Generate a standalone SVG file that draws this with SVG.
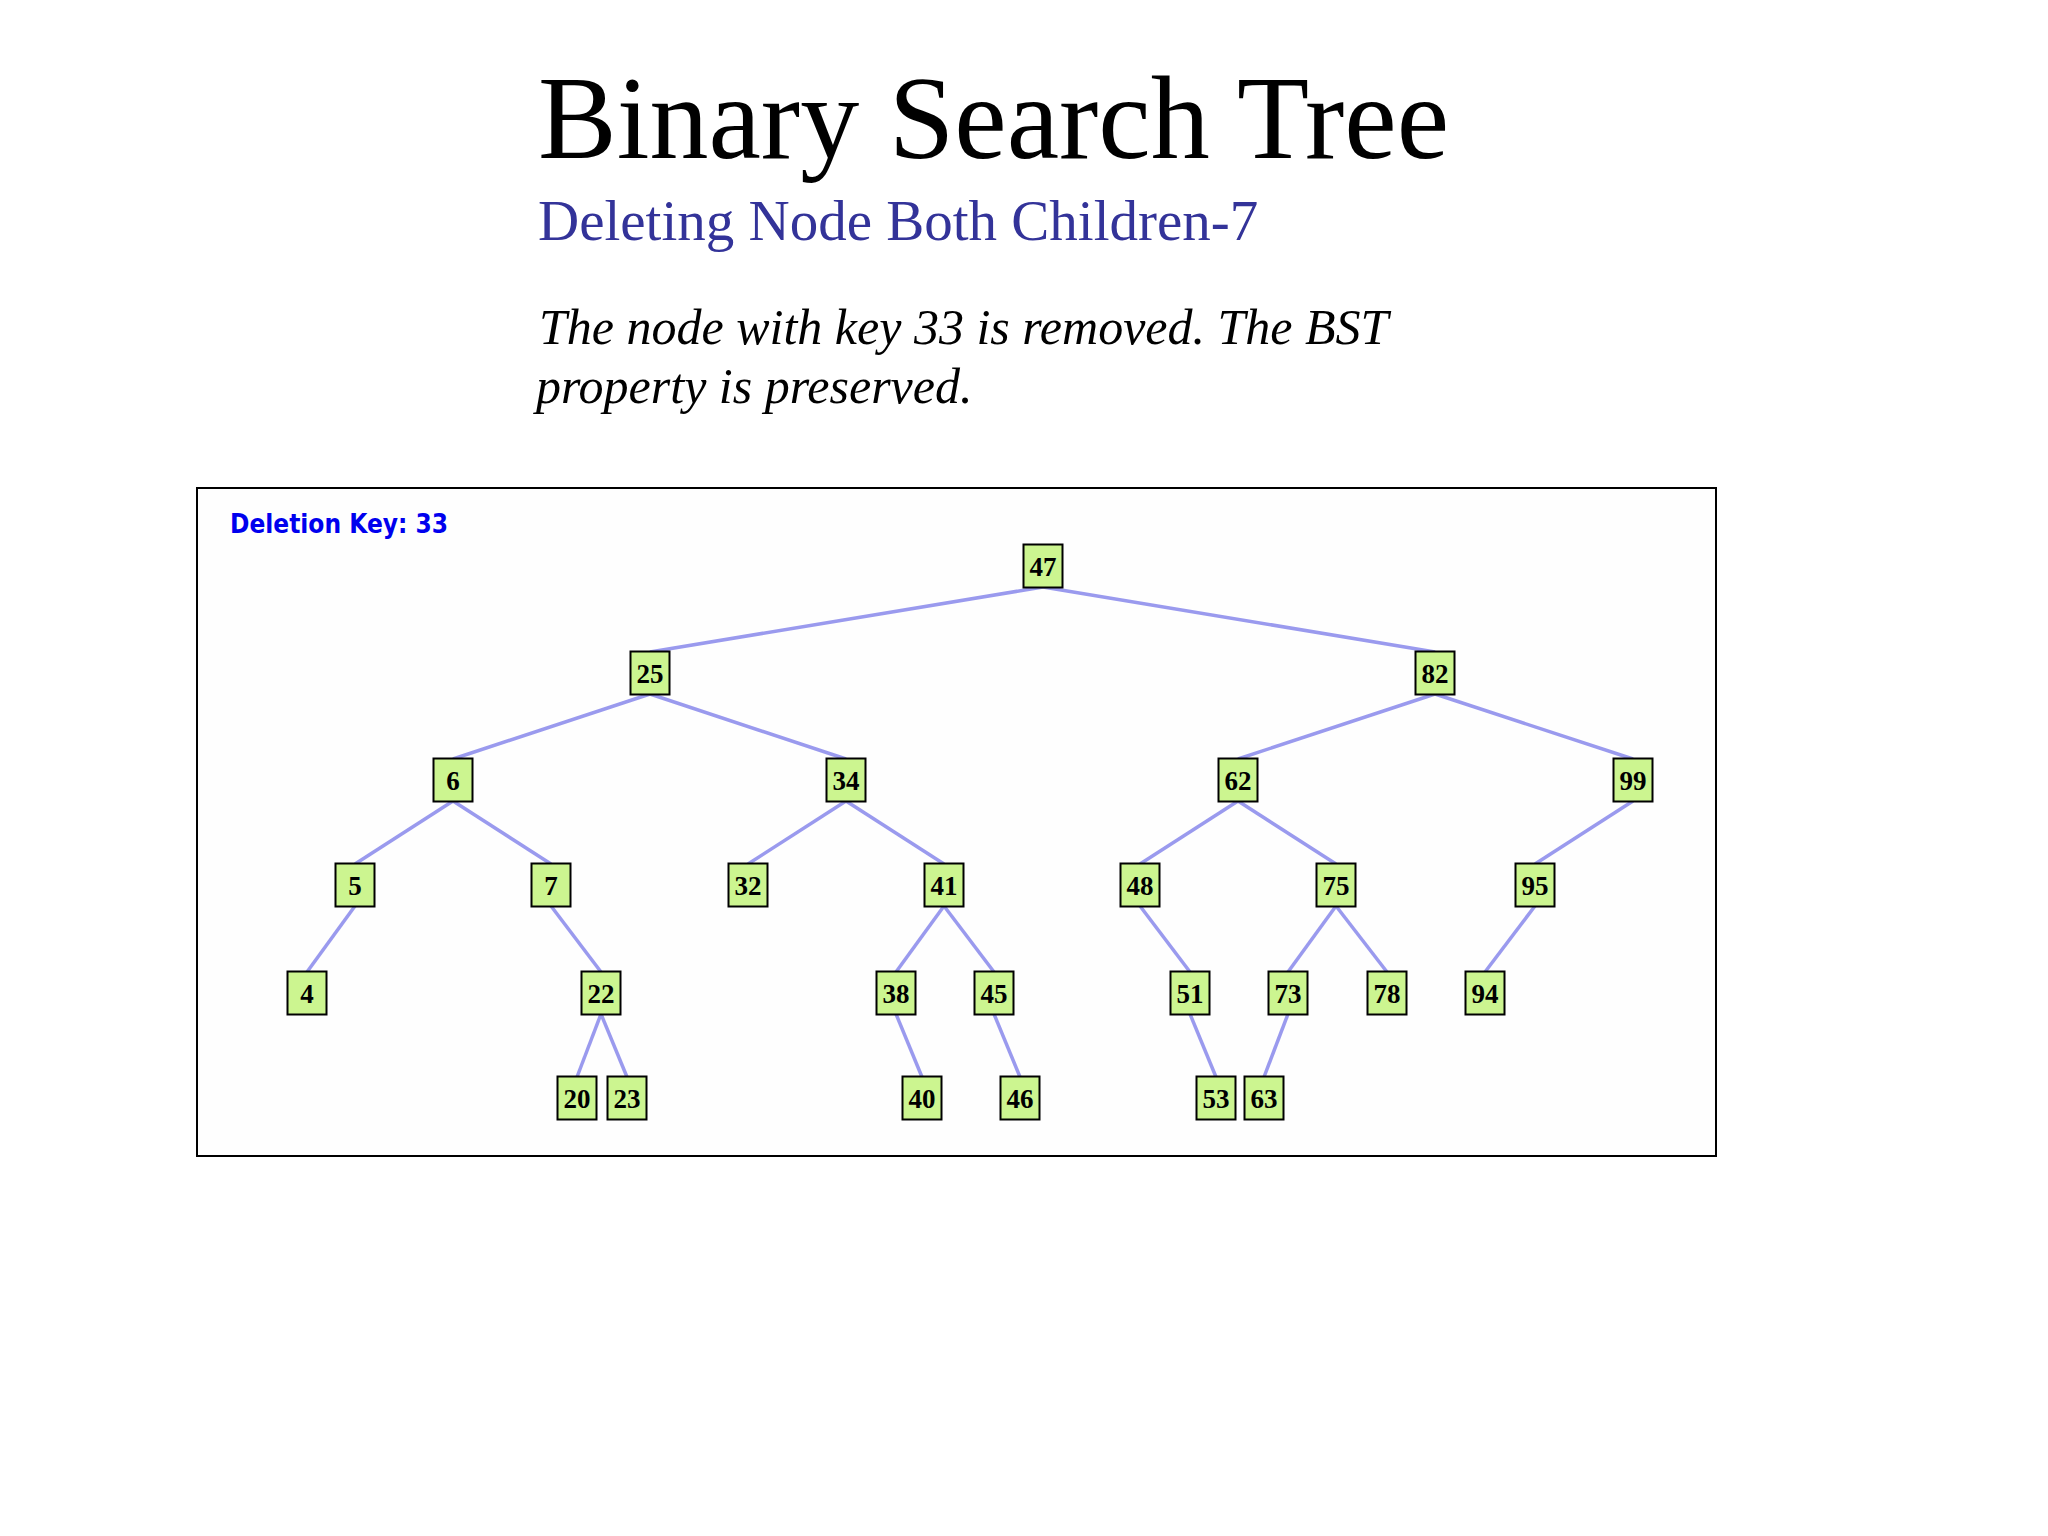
<svg xmlns="http://www.w3.org/2000/svg" width="2048" height="1536" viewBox="0 0 2048 1536">
<style>
.n rect{fill:#ccf590;stroke:#000;stroke-width:2}
.n text{font-family:"Liberation Serif",serif;font-size:27px;font-weight:bold;text-anchor:middle;fill:#000}
#edges line{stroke:#9a9aee;stroke-width:3.5}
</style>
<rect width="2048" height="1536" fill="#fff"/>
<text x="538" y="158" font-family="Liberation Serif,serif" font-size="118">Binary Search Tree</text>
<text x="538" y="240" font-family="Liberation Serif,serif" font-size="57" fill="#333399">Deleting Node Both Children-7</text>
<text x="539" y="344" font-family="Liberation Serif,serif" font-size="50" font-style="italic">The node with key 33 is removed. The BST</text>
<text x="536" y="403" font-family="Liberation Serif,serif" font-size="50" font-style="italic">property is preserved.</text>
<rect x="197" y="488" width="1519" height="668" fill="#fefefe" stroke="#000" stroke-width="2"/>
<text x="230" y="533" font-family="DejaVu Sans Condensed,DejaVu Sans,sans-serif" font-weight="bold" font-size="26" fill="#0000ee">Deletion Key:  33</text>
<g id="edges">
<line x1="1043" y1="587" x2="650" y2="652"/><line x1="1043" y1="587" x2="1435" y2="652"/>
<line x1="650" y1="694" x2="453" y2="759"/><line x1="650" y1="694" x2="846" y2="759"/>
<line x1="1435" y1="694" x2="1238" y2="759"/><line x1="1435" y1="694" x2="1633" y2="759"/>
<line x1="453" y1="801" x2="355" y2="864"/><line x1="453" y1="801" x2="551" y2="864"/>
<line x1="846" y1="801" x2="748" y2="864"/><line x1="846" y1="801" x2="944" y2="864"/>
<line x1="1238" y1="801" x2="1140" y2="864"/><line x1="1238" y1="801" x2="1336" y2="864"/>
<line x1="1633" y1="801" x2="1535" y2="864"/>
<line x1="355" y1="906" x2="307" y2="972"/><line x1="551" y1="906" x2="601" y2="972"/>
<line x1="944" y1="906" x2="896" y2="972"/><line x1="944" y1="906" x2="994" y2="972"/>
<line x1="1140" y1="906" x2="1190" y2="972"/><line x1="1336" y1="906" x2="1288" y2="972"/><line x1="1336" y1="906" x2="1387" y2="972"/>
<line x1="1535" y1="906" x2="1485" y2="972"/>
<line x1="601" y1="1014" x2="577" y2="1077"/><line x1="601" y1="1014" x2="627" y2="1077"/>
<line x1="896" y1="1014" x2="922" y2="1077"/><line x1="994" y1="1014" x2="1020" y2="1077"/>
<line x1="1190" y1="1014" x2="1216" y2="1077"/><line x1="1288" y1="1014" x2="1264" y2="1077"/>
</g>
<g id="n47" class="n" transform="translate(1043,566)"><rect x="-19.5" y="-21.5" width="39" height="43"/><text y="10">47</text></g>
<g id="n25" class="n" transform="translate(650,673)"><rect x="-19.5" y="-21.5" width="39" height="43"/><text y="10">25</text></g>
<g id="n82" class="n" transform="translate(1435,673)"><rect x="-19.5" y="-21.5" width="39" height="43"/><text y="10">82</text></g>
<g id="n6" class="n" transform="translate(453,780)"><rect x="-19.5" y="-21.5" width="39" height="43"/><text y="10">6</text></g>
<g id="n34" class="n" transform="translate(846,780)"><rect x="-19.5" y="-21.5" width="39" height="43"/><text y="10">34</text></g>
<g id="n62" class="n" transform="translate(1238,780)"><rect x="-19.5" y="-21.5" width="39" height="43"/><text y="10">62</text></g>
<g id="n99" class="n" transform="translate(1633,780)"><rect x="-19.5" y="-21.5" width="39" height="43"/><text y="10">99</text></g>
<g id="n5" class="n" transform="translate(355,885)"><rect x="-19.5" y="-21.5" width="39" height="43"/><text y="10">5</text></g>
<g id="n7" class="n" transform="translate(551,885)"><rect x="-19.5" y="-21.5" width="39" height="43"/><text y="10">7</text></g>
<g id="n32" class="n" transform="translate(748,885)"><rect x="-19.5" y="-21.5" width="39" height="43"/><text y="10">32</text></g>
<g id="n41" class="n" transform="translate(944,885)"><rect x="-19.5" y="-21.5" width="39" height="43"/><text y="10">41</text></g>
<g id="n48" class="n" transform="translate(1140,885)"><rect x="-19.5" y="-21.5" width="39" height="43"/><text y="10">48</text></g>
<g id="n75" class="n" transform="translate(1336,885)"><rect x="-19.5" y="-21.5" width="39" height="43"/><text y="10">75</text></g>
<g id="n95" class="n" transform="translate(1535,885)"><rect x="-19.5" y="-21.5" width="39" height="43"/><text y="10">95</text></g>
<g id="n4" class="n" transform="translate(307,993)"><rect x="-19.5" y="-21.5" width="39" height="43"/><text y="10">4</text></g>
<g id="n22" class="n" transform="translate(601,993)"><rect x="-19.5" y="-21.5" width="39" height="43"/><text y="10">22</text></g>
<g id="n38" class="n" transform="translate(896,993)"><rect x="-19.5" y="-21.5" width="39" height="43"/><text y="10">38</text></g>
<g id="n45" class="n" transform="translate(994,993)"><rect x="-19.5" y="-21.5" width="39" height="43"/><text y="10">45</text></g>
<g id="n51" class="n" transform="translate(1190,993)"><rect x="-19.5" y="-21.5" width="39" height="43"/><text y="10">51</text></g>
<g id="n73" class="n" transform="translate(1288,993)"><rect x="-19.5" y="-21.5" width="39" height="43"/><text y="10">73</text></g>
<g id="n78" class="n" transform="translate(1387,993)"><rect x="-19.5" y="-21.5" width="39" height="43"/><text y="10">78</text></g>
<g id="n94" class="n" transform="translate(1485,993)"><rect x="-19.5" y="-21.5" width="39" height="43"/><text y="10">94</text></g>
<g id="n20" class="n" transform="translate(577,1098)"><rect x="-19.5" y="-21.5" width="39" height="43"/><text y="10">20</text></g>
<g id="n23" class="n" transform="translate(627,1098)"><rect x="-19.5" y="-21.5" width="39" height="43"/><text y="10">23</text></g>
<g id="n40" class="n" transform="translate(922,1098)"><rect x="-19.5" y="-21.5" width="39" height="43"/><text y="10">40</text></g>
<g id="n46" class="n" transform="translate(1020,1098)"><rect x="-19.5" y="-21.5" width="39" height="43"/><text y="10">46</text></g>
<g id="n53" class="n" transform="translate(1216,1098)"><rect x="-19.5" y="-21.5" width="39" height="43"/><text y="10">53</text></g>
<g id="n63" class="n" transform="translate(1264,1098)"><rect x="-19.5" y="-21.5" width="39" height="43"/><text y="10">63</text></g>
</svg>
